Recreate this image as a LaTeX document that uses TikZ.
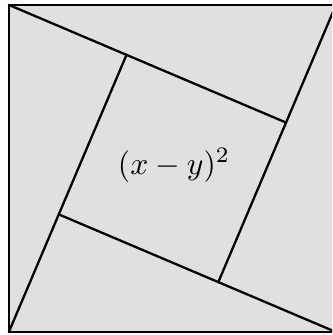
\documentclass[tikz,border=0pt]{standalone}
\usepackage{tikz}
\usetikzlibrary{calc}
\begin{document}
\begin{tikzpicture}[
    edge/.style={line width=2pt, line cap=round, line join=miter},
    arealabel/.style={scale=2.75}
  ]
  % Picture window (the right side of the square is cut off)
  \clip (-0.27,-0.09) rectangle (9.88,10.15);

  % Outer square
  \coordinate (A) at (0,10);
  \coordinate (B) at (10,10);
  \coordinate (C) at (10,0);
  \coordinate (D) at (0,0);
  \filldraw[edge, fill=black!12] (A) -- (B) -- (C) -- (D) -- cycle;

  % Legs of the four right triangles (angle 23, hypotenuse 10)
  \coordinate (P) at ($(A)+(-23:9.205)$);
  \coordinate (Q) at ($(B)+(-113:9.205)$);
  \coordinate (R) at ($(C)+(157:9.205)$);
  \coordinate (S) at ($(D)+(67:9.205)$);
  \draw[edge] (A) -- (P);
  \draw[edge] (B) -- (Q);
  \draw[edge] (C) -- (R);
  \draw[edge] (D) -- (S);

  % Inner square
  \node[arealabel] (inner) at (5.05,5.1) {$(x-y)^2$};
\end{tikzpicture}
\end{document}
